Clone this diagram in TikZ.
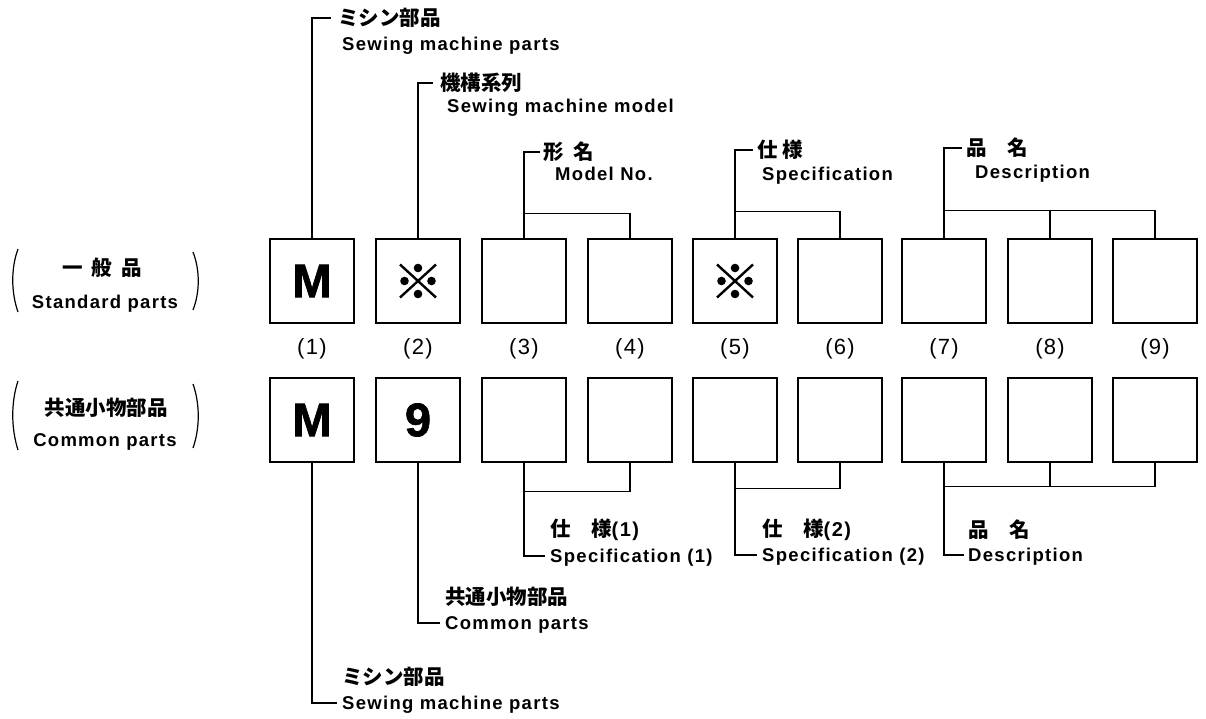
\documentclass[tikz,border=0pt]{standalone}
\usepackage{fontspec}
\setmainfont{Liberation Sans}
\newfontfamily\myEnFam[LetterSpace=7]{Liberation Sans}
\newfontfamily\myNumFam[LetterSpace=6]{Liberation Sans}
\newfontfamily\myBigFam[FakeBold=1.5]{Liberation Sans}
\newfontfamily\myJpFam{Noto Sans CJK JP}
\newcommand\myEn{\myEnFam\bfseries\fontsize{18.5}{22}\selectfont}
\newcommand\myJp{\myJpFam\bfseries\fontsize{20.5}{24}\selectfont}
\newcommand\myNum{\myNumFam\fontsize{22}{26}\selectfont}
\newcommand\myJpNum{\myEnFam\bfseries\fontsize{20}{24}\selectfont}
\newcommand\myBig{\myBigFam\bfseries\fontsize{47}{50}\selectfont}
\begin{document}
\begin{tikzpicture}[x=1pt,y=-1pt,
  box/.style={draw, line width=1.6pt, minimum width=84pt, minimum height=84pt, inner sep=0pt, font=\myBig},
  lead/.style={line width=1.2pt},
  jp/.style={font=\myJp, inner sep=0pt, anchor=west},
  en/.style={font=\myEn, inner sep=0pt, anchor=base west},
  num/.style={font=\myNum, inner sep=0pt},
  paren/.style={line width=1.2pt},
  kome/.pic={
    \draw[line width=2.4pt] (-18,-16.5) -- (18,16.5) (-18,16.5) -- (18,-16.5);
    \fill (0,-13) circle (4.3pt) (0,13) circle (4.3pt) (-13.5,0) circle (4.3pt) (13.5,0) circle (4.3pt);
  }]
\useasboundingbox (0,0) rectangle (1206,719);

% top row boxes
\node[box] (b1) at (312,281) {M};
\node[box] (b2) at (418,281) {};
\node[box] (b3) at (524,281) {};
\node[box] (b4) at (630,281) {};
\node[box] (b5) at (735,281) {};
\node[box] (b6) at (840,281) {};
\node[box] (b7) at (944,281) {};
\node[box] (b8) at (1050,281) {};
\node[box] (b9) at (1155,281) {};
\pic at (b2.center) {kome};
\pic at (b5.center) {kome};

% bottom row boxes
\node[box] (c1) at (312,420) {M};
\node[box] (c2) at (418,420) {9};
\node[box] (c3) at (524,420) {};
\node[box] (c4) at (630,420) {};
\node[box] (c5) at (735,420) {};
\node[box] (c6) at (840,420) {};
\node[box] (c7) at (944,420) {};
\node[box] (c8) at (1050,420) {};
\node[box] (c9) at (1155,420) {};

% numbers
\node[num] (n1) at (312,349) {(1)};
\node[num] (n2) at (418,349) {(2)};
\node[num] (n3) at (524,349) {(3)};
\node[num] (n4) at (630,349) {(4)};
\node[num] (n5) at (735,349) {(5)};
\node[num] (n6) at (840,349) {(6)};
\node[num] (n7) at (944,349) {(7)};
\node[num] (n8) at (1050,349) {(8)};
\node[num] (n9) at (1155,349) {(9)};

% left labels
\node[font=\myJp, inner sep=0pt] (l1) at (102,268) {一\hspace{0.45em}般\hspace{0.45em}品};
\node[font=\myEn, inner sep=0pt, anchor=base] (l2) at (105,308) {Standard parts};
\node[font=\myJp, inner sep=0pt] (l3) at (106,408) {共通小物部品};
\node[font=\myEn, inner sep=0pt, anchor=base] (l4) at (105,446) {Common parts};
\draw[paren] (18,249) .. controls (11,268) and (11,292) .. (18,312);
\draw[paren] (193,252) .. controls (200,270) and (200,292) .. (193,310);
\draw[paren] (18,381) .. controls (11,402) and (11,428) .. (18,450);
\draw[paren] (193,384) .. controls (200,404) and (200,428) .. (193,448);

% top labels
\node[jp] (j1) at (338,18) {ミシン部品};
\node[en] (e1) at (342,51) {Sewing machine parts};
\draw[lead] (b1.north) |- ([shift={(-7,0)}]j1.west);

\node[jp] (j2) at (440,83) {機構系列};
\node[en] (e2) at (447,113) {Sewing machine model};
\draw[lead] (b2.north) |- ([shift={(-7,0)}]j2.west);

\path (b3.north) ++(0,-25) coordinate (k3);
\draw[lead] (b3.north) -- (k3) -| (b4.north);
\node[jp] (j3) at (543,152) {形\hspace{0.5em}名};
\node[en] (e3) at (555,181) {Model No.};
\draw[lead] (k3) |- ([shift={(-3,0)}]j3.west);

\path (b5.north) ++(0,-27) coordinate (k5);
\draw[lead] (b5.north) -- (k5) -| (b6.north);
\node[jp] (j5) at (757,150) {仕\hspace{0.25em}様};
\node[en] (e5) at (762,181) {Specification};
\draw[lead] (k5) |- ([shift={(-4,0)}]j5.west);

\path (b7.north) ++(0,-28) coordinate (k7);
\draw[lead] (b7.north) -- (k7) -| (b9.north);
\draw[lead] (k7 -| b8.north) -- (b8.north);
\node[jp] (j7) at (966,148) {品\hspace{1em}名};
\node[en] (e7) at (975,179) {Description};
\draw[lead] (k7) |- ([shift={(-4,0)}]j7.west);

% bottom labels
\path (c3.south) ++(0,29) coordinate (m3);
\draw[lead] (c3.south) -- (m3) -| (c4.south);
\node[jp] (g3) at (550,530) {仕　様{\myJpNum (1)}};
\node[en] (f3) at (550,562) {Specification (1)};
\draw[lead] (m3) |- ([shift={(-5,-6)}]f3.base west);

\path (c5.south) ++(0,26) coordinate (m5);
\draw[lead] (c5.south) -- (m5) -| (c6.south);
\node[jp] (g5) at (762,530) {仕　様{\myJpNum (2)}};
\node[en] (f5) at (762,561) {Specification (2)};
\draw[lead] (m5) |- ([shift={(-5,-6)}]f5.base west);

\path (c7.south) ++(0,24) coordinate (m7);
\draw[lead] (c7.south) -- (m7) -| (c9.south);
\draw[lead] (m7 -| c8.south) -- (c8.south);
\node[jp] (g7) at (968,530) {品　名};
\node[en] (f7) at (968,561) {Description};
\draw[lead] (m7) |- ([shift={(-4,-6)}]f7.base west);

\node[jp] (g2) at (445,597) {共通小物部品};
\node[en] (f2) at (445,629) {Common parts};
\draw[lead] (c2.south) |- ([shift={(-5,-6)}]f2.base west);

\node[jp] (g1) at (342,677) {ミシン部品};
\node[en] (f1) at (342,709) {Sewing machine parts};
\draw[lead] (c1.south) |- ([shift={(-5,-6)}]f1.base west);
\end{tikzpicture}
\end{document}
